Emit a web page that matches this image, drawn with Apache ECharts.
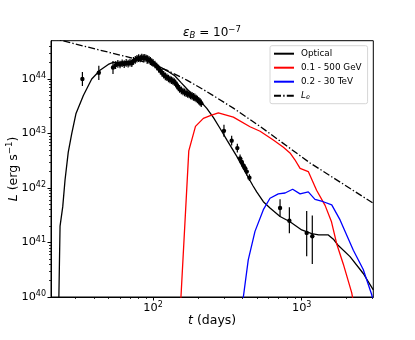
<!DOCTYPE html>
<html><head><meta charset="utf-8">
<script src="https://cdn.jsdelivr.net/npm/echarts@6/dist/echarts.min.js"></script>
<style>html,body{margin:0;padding:0;background:#fff}#c{width:415px;height:340px}</style>
</head><body><div id="c"></div>
<script>
// ---- data ----
const opticalT = [23.1, 23.7, 24.7, 25.6, 26.9, 28.4, 30.3, 34.0, 38.7, 44.0, 50.0, 54.0, 62.0, 70.0, 78.0, 86.0, 94.0, 102, 112, 125, 140, 155, 168, 185, 207, 230, 255, 282, 315, 366, 427, 470, 498, 552, 612, 715, 834, 1000, 1167, 1300, 1510, 1633, 1750, 2113, 2594, 3030];
const opticalL = [3e39, 2.0e41, 4.5e41, 1.4e42, 4.5e42, 1.0e43, 2.3e43, 5.0e43, 1.0e44, 1.45e44, 1.85e44, 2.02e44, 2.05e44, 2.1e44, 2.3e44, 2.45e44, 2.3e44, 2.0e44, 1.65e44, 1.4e44, 1.15e44, 8.5e43, 6.7e43, 5.1e43, 4.0e43, 2.9e43, 1.95e43, 1.25e43, 7.5e42, 3.8e42, 1.75e42, 1.1e42, 8.5e41, 5.6e41, 4.3e41, 3.0e41, 2.4e41, 1.7e41, 1.45e41, 1.38e41, 1.38e41, 1.15e41, 9e40, 5.5e40, 2.7e40, 1.35e40];

const gevT = [150, 174, 193, 218, 245, 275, 347, 449, 525, 644, 753, 834, 900, 975, 1107, 1259, 1436, 1586, 1718, 1905, 2168, 2300];
const gevL = [2.5e39, 4.8e42, 1.35e43, 1.9e43, 2.15e43, 2.4e43, 2.0e43, 1.33e43, 1.1e43, 7.6e42, 5.6e42, 4.4e42, 3.3e42, 2.3e42, 2.0e42, 9.1e41, 4.8e41, 2.4e41, 9.5e40, 4.0e40, 1.2e40, 5e39];

const tevT = [398, 437, 485, 552, 612, 696, 773, 869, 975, 1107, 1228, 1397, 1592, 1811, 2224, 2593, 2958, 3100];
const tevL = [7e39, 4.8e40, 1.6e41, 4.0e41, 6.5e41, 7.8e41, 8.1e41, 9.5e41, 7.8e41, 8.5e41, 6.2e41, 5.6e41, 4.9e41, 2.6e41, 7.2e40, 3.2e40, 1.1e40, 6e39];

const leT = [20.6, 24.9, 44, 73.5, 123.6, 168.7, 229.6, 347, 525, 1138, 3030];
const leL = [5.7e44, 5.0e44, 3.39e44, 2.40e44, 1.46e44, 9.55e43, 5.89e43, 2.92e43, 1.35e43, 2.88e42, 5.25e41];

const obsT = [33.5, 43.2, 53.8,
  56, 58, 60, 62, 64, 66, 68, 70, 72, 74, 76, 78, 80, 82, 84, 86, 88, 90, 92, 94, 96, 98, 100, 103, 106, 109, 112, 115, 118, 121, 124, 127, 130, 133, 136, 139, 142, 145, 148, 151, 155, 159, 163, 167, 171, 175, 179, 183, 187, 191, 195, 199, 203, 207, 211,
  300, 338, 369, 385, 395, 405, 416, 427, 445,
  715, 826, 1080, 1178];
const obsL = [1.0e44, 1.3e44, 1.63e44,
  1.80e44, 1.90e44, 1.85e44, 1.95e44, 1.88e44, 1.98e44, 1.92e44, 2.0e44, 1.95e44, 2.15e44, 2.25e44, 2.35e44, 2.42e44, 2.38e44, 2.48e44, 2.42e44, 2.45e44, 2.38e44, 2.32e44, 2.25e44, 2.15e44, 2.05e44, 1.98e44, 1.85e44, 1.7e44, 1.55e44, 1.42e44, 1.3e44, 1.2e44, 1.12e44, 1.08e44, 1.02e44, 9.8e43, 9.5e43, 9.2e43, 8.8e43, 8.3e43, 7.6e43, 7.0e43, 6.6e43, 6.2e43, 5.9e43, 5.7e43, 5.5e43, 5.3e43, 5.2e43, 5.0e43, 4.9e43, 4.7e43, 4.6e43, 4.4e43, 4.2e43, 4.0e43, 3.8e43, 3.6e43,
  1.12e43, 7.4e42, 5.4e42, 3.5e42, 3.0e42, 2.6e42, 2.3e42, 2.0e42, 1.55e42,
  4.3e41, 2.5e41, 1.5e41, 1.3e41];
// error bar half-lengths in dex (up / down)
const obsUp = [0.13, 0.13, 0.12,
  0.07, 0.07, 0.07, 0.07, 0.07, 0.07, 0.07, 0.07, 0.07, 0.07, 0.07, 0.07, 0.07, 0.07, 0.07, 0.07, 0.07, 0.07, 0.07, 0.07, 0.07, 0.07, 0.07, 0.07, 0.07, 0.07, 0.07, 0.07, 0.07, 0.07, 0.07, 0.07, 0.07, 0.07, 0.07, 0.07, 0.07, 0.07, 0.07, 0.07, 0.07, 0.07, 0.07, 0.07, 0.07, 0.07, 0.07, 0.07, 0.07, 0.07, 0.07, 0.07, 0.07, 0.07, 0.07,
  0.11, 0.09, 0.08, 0.07, 0.07, 0.07, 0.07, 0.07, 0.06,
  0.16, 0.25, 0.40, 0.38];
const obsDn = [0.13, 0.13, 0.12,
  0.07, 0.07, 0.07, 0.07, 0.07, 0.07, 0.07, 0.07, 0.07, 0.07, 0.07, 0.07, 0.07, 0.07, 0.07, 0.07, 0.07, 0.07, 0.07, 0.07, 0.07, 0.07, 0.07, 0.07, 0.07, 0.07, 0.07, 0.07, 0.07, 0.07, 0.07, 0.07, 0.07, 0.07, 0.07, 0.07, 0.07, 0.07, 0.07, 0.07, 0.07, 0.07, 0.07, 0.07, 0.07, 0.07, 0.07, 0.07, 0.07, 0.07, 0.07, 0.07, 0.07, 0.07, 0.07,
  0.11, 0.09, 0.08, 0.07, 0.07, 0.07, 0.07, 0.07, 0.06,
  0.16, 0.23, 0.43, 0.51];

const xMajorTicks = [100, 1000];
const xMinorTicks = [30, 40, 50, 60, 70, 80, 90, 200, 300, 400, 500, 600, 700, 800, 900, 2000, 3000];
const yMajorTicks = [1e40, 1e41, 1e42, 1e43, 1e44];
const yMinorTicks = [2e40, 3e40, 4e40, 5e40, 6e40, 7e40, 8e40, 9e40,
  2e41, 3e41, 4e41, 5e41, 6e41, 7e41, 8e41, 9e41,
  2e42, 3e42, 4e42, 5e42, 6e42, 7e42, 8e42, 9e42,
  2e43, 3e43, 4e43, 5e43, 6e43, 7e43, 8e43, 9e43,
  2e44, 3e44, 4e44];

const seriesNames = ['Optical', '0.1 - 500 GeV', '0.2 - 30 TeV', 'L_e'];

// ---- chart ----
const FONT = 'DejaVu Sans';
const X_MIN = 20.6, X_MAX = 3030, Y_MIN = 1e40, Y_MAX = 5.05e44;
const zip = (a, b) => a.map((v, i) => [v, b[i]]);
const powLabel = v => '{b|10}{s|' + Math.round(Math.log10(v)) + '}';
const tickRich = {
  b: { fontFamily: FONT, fontSize: 11.3, lineHeight: 14, color: '#000', verticalAlign: 'middle' },
  s: { fontFamily: FONT, fontSize: 8, lineHeight: 8, color: '#000', verticalAlign: 'top' }
};

const chart = echarts.init(document.getElementById('c'), null, { renderer: 'canvas' });

const baseX = {
  type: 'log', logBase: 10, min: X_MIN, max: X_MAX, position: 'bottom',
  splitLine: { show: false }, minorTick: { show: false }, minorSplitLine: { show: false }
};
const baseY = {
  type: 'log', logBase: 10, min: Y_MIN, max: Y_MAX, position: 'left',
  splitLine: { show: false }, minorTick: { show: false }, minorSplitLine: { show: false }
};

const obsData = obsT.map((t, i) => [t, obsL[i], obsL[i] / Math.pow(10, obsDn[i]), obsL[i] * Math.pow(10, obsUp[i])]);

const option = {
  animation: false,
  backgroundColor: '#fff',
  grid: { left: 51, top: 40.7, width: 322.3, height: 256.3, show: true, borderColor: '#000', borderWidth: 1, containLabel: false, outerBoundsMode: 'none' },
  graphic: [{
    type: 'text', x: 212, y: 33, silent: true,
    style: {
      text: '{i|ε}{sub|B}{b| = 10}{s|−7}', align: 'center', verticalAlign: 'middle',
      rich: {
        i: { fontFamily: FONT, fontSize: 12, fontStyle: 'italic', lineHeight: 15, verticalAlign: 'middle', fill: '#000', color: '#000' },
        sub: { fontFamily: FONT, fontSize: 8.5, fontStyle: 'italic', lineHeight: 8, verticalAlign: 'bottom', fill: '#000', color: '#000' },
        b: { fontFamily: FONT, fontSize: 12, lineHeight: 15, verticalAlign: 'middle', fill: '#000', color: '#000' },
        s: { fontFamily: FONT, fontSize: 8.5, lineHeight: 8, verticalAlign: 'top', fill: '#000', color: '#000' }
      }
    }
  }],
  legend: {
    data: seriesNames, orient: 'vertical', left: 270, top: 45.7,
    padding: [2.5, 6, 2.5, 3], itemWidth: 20, itemHeight: 10, itemGap: 3,
    itemStyle: { opacity: 0 },
    backgroundColor: 'rgba(255,255,255,0.8)', borderColor: '#d6d6d6', borderWidth: 1, borderRadius: 2,
    formatter: n => n === 'L_e' ? '{i|L}{sub|e}' : n,
    textStyle: {
      fontFamily: FONT, fontSize: 8.8, color: '#000', lineHeight: 11, padding: [0, 0, 0, 2],
      rich: {
        i: { fontFamily: FONT, fontSize: 8.8, fontStyle: 'italic', lineHeight: 11, verticalAlign: 'middle', color: '#000' },
        sub: { fontFamily: FONT, fontSize: 6.5, fontStyle: 'italic', lineHeight: 6, verticalAlign: 'bottom', color: '#000' }
      }
    }
  },
  xAxis: [
    Object.assign({}, baseX, {
      axisLine: { show: true, lineStyle: { color: '#000', width: 1 } },
      axisTick: { show: true, customValues: xMajorTicks, length: 3.5, lineStyle: { color: '#000', width: 1 } },
      axisLabel: { show: true, customValues: xMajorTicks, formatter: powLabel, rich: tickRich, margin: 4, color: '#000' },
      name: '{i|t}{b| (days)}', nameLocation: 'middle', nameGap: 17.5, nameMoveOverlap: false,
      nameTextStyle: {
        rich: {
          i: { fontFamily: FONT, fontSize: 12.5, fontStyle: 'italic', color: '#000' },
          b: { fontFamily: FONT, fontSize: 12.5, color: '#000' }
        }
      }
    }),
    Object.assign({}, baseX, {
      axisLine: { show: false },
      axisTick: { show: true, customValues: xMinorTicks, length: 2, lineStyle: { color: '#000', width: 0.8 } },
      axisLabel: { show: false }
    })
  ],
  yAxis: [
    Object.assign({}, baseY, {
      axisLine: { show: true, lineStyle: { color: '#000', width: 1 } },
      axisTick: { show: true, customValues: yMajorTicks, length: 3.5, lineStyle: { color: '#000', width: 1 } },
      axisLabel: { show: true, customValues: yMajorTicks, formatter: powLabel, rich: tickRich, margin: 5, color: '#000' },
      name: '{i|L}{b| (erg s}{s|−1}{b|)}', nameLocation: 'middle', nameRotate: 90, nameGap: 29.5, nameMoveOverlap: false,
      nameTextStyle: {
        rich: {
          i: { fontFamily: FONT, fontSize: 12.5, fontStyle: 'italic', lineHeight: 16, verticalAlign: 'middle', color: '#000' },
          b: { fontFamily: FONT, fontSize: 12.5, lineHeight: 16, verticalAlign: 'middle', color: '#000' },
          s: { fontFamily: FONT, fontSize: 8.8, lineHeight: 9, verticalAlign: 'top', color: '#000' }
        }
      }
    }),
    Object.assign({}, baseY, {
      axisLine: { show: false },
      axisTick: { show: true, customValues: yMinorTicks, length: 2, lineStyle: { color: '#000', width: 0.8 } },
      axisLabel: { show: false }
    })
  ],
  series: [
    { name: 'Optical', type: 'line', data: zip(opticalT, opticalL), symbol: 'none', clip: true, lineStyle: { color: '#000', width: 1.3 }, itemStyle: { color: '#000' }, z: 3 },
    { name: '0.1 - 500 GeV', type: 'line', data: zip(gevT, gevL), symbol: 'none', clip: true, lineStyle: { color: '#ff0000', width: 1.3 }, itemStyle: { color: '#ff0000' }, z: 3 },
    { name: '0.2 - 30 TeV', type: 'line', data: zip(tevT, tevL), symbol: 'none', clip: true, lineStyle: { color: '#0000ff', width: 1.3 }, itemStyle: { color: '#0000ff' }, z: 3 },
    { name: 'L_e', type: 'line', data: zip(leT, leL), symbol: 'none', clip: true, lineStyle: { color: '#000', width: 1.3, type: [7, 2.2, 1.4, 2.2] }, itemStyle: { color: '#000' }, z: 3 },
    {
      name: 'obs', type: 'custom', clip: true, z: 4,
      encode: { x: 0, y: [1, 2, 3] },
      data: obsData,
      renderItem: function (params, api) {
        const t = api.value(0), l = api.value(1), lo = api.value(2), hi = api.value(3);
        const p = api.coord([t, l]), a = api.coord([t, lo]), b = api.coord([t, hi]);
        return {
          type: 'group', children: [
            { type: 'line', shape: { x1: a[0], y1: a[1], x2: b[0], y2: b[1] }, style: { stroke: '#000', lineWidth: 1.2 } },
            { type: 'circle', shape: { cx: p[0], cy: p[1], r: 2.2 }, style: { fill: '#000' } }
          ]
        };
      }
    }
  ]
};
chart.setOption(option);
</script>
</body></html>
